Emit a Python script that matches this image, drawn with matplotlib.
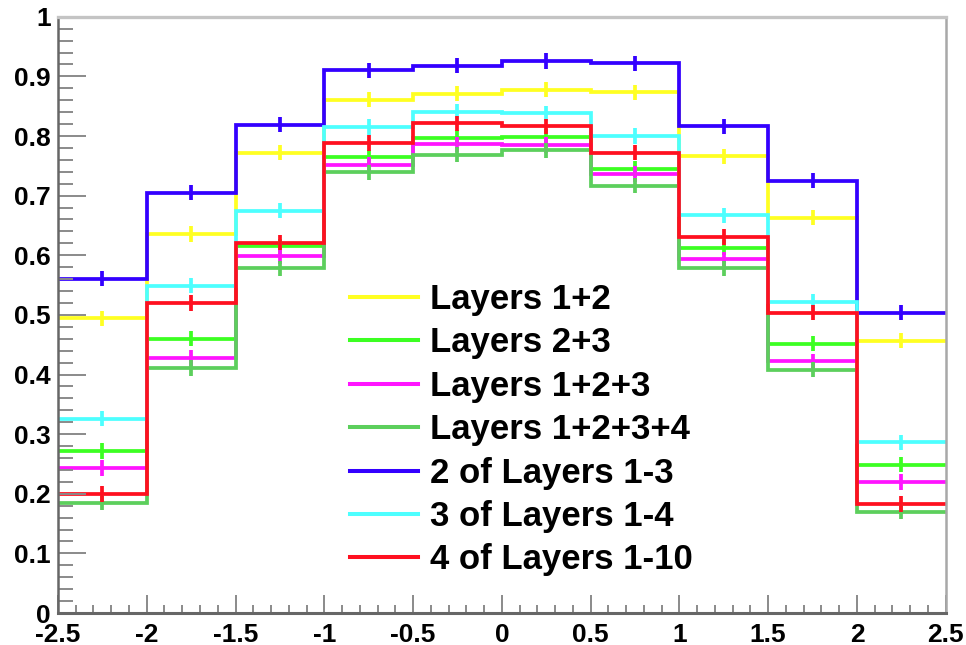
import matplotlib

matplotlib.use("Agg")
import matplotlib.pyplot as plt
from matplotlib.lines import Line2D
from matplotlib.ticker import MultipleLocator
import numpy as np


BIN_EDGES = [-2.5, -2.0, -1.5, -1.0, -0.5, 0.0, 0.5, 1.0, 1.5, 2.0, 2.5]

LAYERS_12 = [0.494, 0.636, 0.772, 0.861, 0.871, 0.878, 0.873, 0.766, 0.663, 0.457]
LAYERS_23 = [0.272, 0.460, 0.615, 0.764, 0.797, 0.799, 0.745, 0.613, 0.452, 0.249]
LAYERS_123 = [0.243, 0.428, 0.598, 0.752, 0.786, 0.785, 0.736, 0.593, 0.422, 0.220]
LAYERS_1234 = [0.185, 0.411, 0.578, 0.739, 0.769, 0.776, 0.717, 0.578, 0.408, 0.170]
TWO_OF_13 = [0.561, 0.705, 0.819, 0.910, 0.918, 0.926, 0.922, 0.816, 0.725, 0.504]
THREE_OF_14 = [0.326, 0.549, 0.675, 0.815, 0.841, 0.838, 0.800, 0.667, 0.522, 0.286]
FOUR_OF_110 = [0.200, 0.520, 0.621, 0.788, 0.821, 0.816, 0.772, 0.631, 0.504, 0.183]

# statistical error on each bin (roughly constant in the picture)
BIN_ERROR = 0.013

LABELS = [
    "Layers 1+2",
    "Layers 2+3",
    "Layers 1+2+3",
    "Layers 1+2+3+4",
    "2 of Layers 1-3",
    "3 of Layers 1-4",
    "4 of Layers 1-10",
]
COLORS = ["#ffff22", "#3cff22", "#ff14ff", "#5ccf5c", "#3300ff", "#4dffff", "#ff1020"]


def main() -> None:
    plt.rcParams.update(
        {
            "font.family": ["Liberation Sans", "DejaVu Sans"],
            "font.weight": "bold",
            "axes.unicode_minus": False,
        }
    )
    fig = plt.figure(figsize=(9.66, 6.45), dpi=100)
    fig.subplots_adjust(left=0.060, right=0.979, bottom=0.0496, top=0.974)
    ax = fig.add_subplot(111)

    edges = np.array(BIN_EDGES)
    centers = 0.5 * (edges[:-1] + edges[1:])
    series = [LAYERS_12, LAYERS_23, LAYERS_123, LAYERS_1234, TWO_OF_13, THREE_OF_14, FOUR_OF_110]

    handles = []
    for values, color, label in zip(series, COLORS, LABELS):
        ax.stairs(values, edges, baseline=None, color=color, lw=2.7)
        ax.errorbar(centers, values, yerr=BIN_ERROR, fmt="none", ecolor=color, elinewidth=2.7, capsize=0)
        handles.append(Line2D([], [], color=color, lw=2.9))

    ax.set_xlim(-2.5, 2.5)
    ax.set_ylim(0, 1)
    ax.xaxis.set_major_locator(MultipleLocator(0.5))
    ax.xaxis.set_minor_locator(MultipleLocator(0.1))
    ax.yaxis.set_major_locator(MultipleLocator(0.1))
    ax.yaxis.set_minor_locator(MultipleLocator(0.02))
    ax.set_xticks(ax.get_xticks(), [f"{v:g}" for v in ax.get_xticks()])
    ax.set_yticks(ax.get_yticks(), [f"{v:g}" for v in ax.get_yticks()])
    ax.set_xlim(-2.5, 2.5)
    ax.set_ylim(0, 1)

    ax.tick_params(axis="both", which="both", direction="in", color="#8a8a8a", width=1.4, labelsize=19)
    ax.tick_params(axis="y", which="major", length=20, pad=5)
    ax.tick_params(axis="y", which="minor", length=10.5)
    ax.tick_params(axis="x", which="major", length=13, pad=7)
    ax.tick_params(axis="x", which="minor", length=6)

    ax.spines["left"].set_color("#666666")
    ax.spines["left"].set_linewidth(1.8)
    ax.spines["bottom"].set_color("#666666")
    ax.spines["bottom"].set_linewidth(2.2)
    ax.spines["top"].set_color("#c4c4c4")
    ax.spines["top"].set_linewidth(2.4)
    ax.spines["right"].set_color("#a8a8a8")
    ax.spines["right"].set_linewidth(1.8)

    ax.legend(
        handles,
        LABELS,
        loc="upper left",
        bbox_to_anchor=(350 / 966, 1 - 283 / 645),
        bbox_transform=fig.transFigure,
        frameon=False,
        fontsize=25,
        borderpad=0,
        borderaxespad=0,
        labelspacing=0.3,
        handlelength=1.97,
        handletextpad=0.33,
    )

    fig.savefig("out.png", dpi=100, facecolor="white")
    plt.close(fig)


if __name__ == "__main__":
    main()
